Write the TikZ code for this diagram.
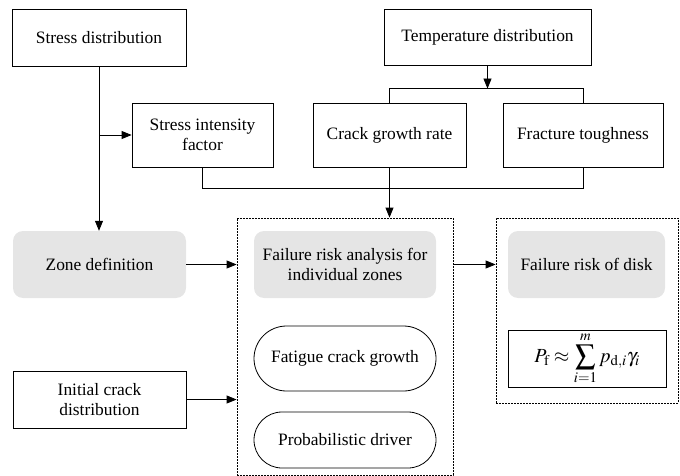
\documentclass[tikz,border=0pt]{standalone}
\usepackage[no-math]{fontspec}
\setmainfont{Liberation Serif}
\usepackage{mathptmx}
\setmainfont{Liberation Serif}
\usetikzlibrary{arrows.meta,positioning,calc}

\begin{document}
\begin{tikzpicture}[x=1pt,y=-1pt,
    font=\fontsize{17.4}{20}\selectfont,
    every node/.style={inner sep=0pt,align=center},
    plain/.style={draw,line width=0.8pt},
    zone/.style={fill=gray!20,rounded corners=10pt},
    pill/.style={draw,line width=0.8pt,minimum width=182pt},
    frame/.style={draw,line width=0.8pt,dash pattern=on 2pt off 1pt},
    link/.style={line width=0.8pt},
    arr/.style={link,-{Triangle[length=10pt,width=8pt]}}]

    \useasboundingbox (0,0) rectangle (680,476);

    % dashed frames
    \node [frame,minimum width=216pt,minimum height=257pt] (box1) at (345,346.5) {};
    \node [frame,minimum width=182pt,minimum height=185pt] (box2) at (587,310.5) {};

    \node [plain,minimum width=174pt,minimum height=57pt] (sd) at (99,37.5) {Stress distribution};
    \node [plain,minimum width=207pt,minimum height=56pt] (td) at (487.5,37) {Temperature distribution};
    \node [plain,minimum width=141pt,minimum height=64pt] (sif) at (202.5,135) {Stress intensity\\factor};
    \node [plain,minimum width=153pt,minimum height=64pt] (cgr) at (389.5,135) {Crack growth rate};
    \node [plain,minimum width=160pt,minimum height=64pt] (ft) at (583,135) {Fracture toughness};
    \node [zone,minimum width=173pt,minimum height=67pt] (zd) at (99.5,264.5) {Zone definition};
    \node [zone,minimum width=182pt,minimum height=67pt] (fra) at (345,264.5) {Failure risk analysis for\\individual zones};
    \node [zone,minimum width=157pt,minimum height=67pt] (frd) at (586.5,264.5) {Failure risk of disk};
    \node [plain,minimum width=158pt,minimum height=57pt,font=\fontsize{20}{22}\selectfont] (pf) at (587,358.5)
        {$\displaystyle P_{\mathrm{f}}\approx\sum_{i=1}^{m}p_{\mathrm{d},i}\gamma_i$};
    \node [pill,minimum height=65pt,rounded corners=32.5pt] (fcg) at (345,358.5) {Fatigue crack growth};
    \node [pill,minimum height=56pt,rounded corners=28pt] (pd) at (345,440) {Probabilistic driver};
    \node [plain,minimum width=173pt,minimum height=57pt] (icd) at (99.5,399.5) {Initial crack\\distribution};

    \coordinate (bus) at ($(cgr.north)+(0,-14)$);

    \draw [arr] (sd.south) -- (sd.south |- zd.north);
    \draw [arr] (sd.south |- sif.west) -- (sif.west);
    \draw [arr] (td.south) -- (td.south |- bus);
    \draw [link] (cgr.north) -- (bus) -| (ft.north);
    \draw [link] (sif.south) -- ++(0,21) -| (ft.south);
    \draw [arr] (cgr.south) -- (cgr.south |- box1.north);
    \draw [arr] (zd.east) -- (zd.east -| box1.west);
    \draw [arr] (box1.east |- fra.east) -- (box2.west |- fra.east);
    \draw [arr] (icd.east) -- (icd.east -| box1.west);
  \end{tikzpicture}
\end{document}
